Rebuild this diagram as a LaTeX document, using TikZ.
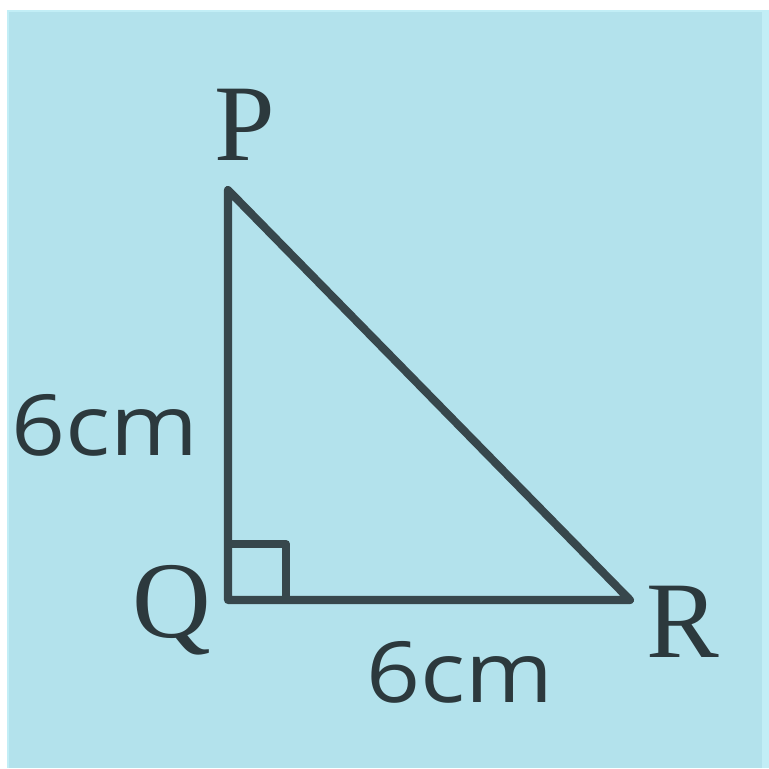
\documentclass[tikz,border=0pt]{standalone}
\usepackage{fontspec}
\setmainfont{Liberation Serif}
\newfontfamily\labelfont{Open Sans}
\usepackage{xcolor}
\usepackage{tikz}
\usetikzlibrary{calc}
\definecolor{bgblue}{HTML}{B3E2EC}
\definecolor{edgeblue}{HTML}{C2EEF6}
\definecolor{inkgray}{HTML}{37474C}

\begin{document}
\begin{tikzpicture}[x=1cm,y=1cm,
  side/.style={draw=inkgray,line width=2.3pt,line join=round},
  vertexlabel/.style={inner sep=0pt,text=inkgray!80!black,font=\fontsize{31}{31}\selectfont},
  lengthlabel/.style={inner sep=0pt,text=inkgray!80!black,xscale=1.12,font=\labelfont\fontsize{24}{24}\selectfont}]
  \useasboundingbox (0,0) rectangle (7.69,7.68);
  \fill[white] (0,0) rectangle (7.69,7.68);
  \fill[edgeblue] (0.07,0) rectangle (7.69,7.58);
  \fill[bgblue] (0.09,0) rectangle (7.62,7.56);
  \coordinate (p) at (2.28,5.78);
  \coordinate (q) at (2.28,1.68);
  \coordinate (r) at (6.30,1.68);
  \draw[side] (p) -- (q) -- (r) -- cycle;
  \draw[side] ($(q)+(0,0.56)$) -| ($(q)+(0.58,0)$);
  \node[vertexlabel] (lp) at (2.45,6.43) {P};
  \node[vertexlabel] (lq) at (1.72,1.58) {Q};
  \node[vertexlabel] (lr) at (6.83,1.46) {R};
  \node[lengthlabel] (lpq) at (1.05,3.43) {6cm};
  \node[lengthlabel] (lqr) at (4.60,0.96) {6cm};
\end{tikzpicture}
\end{document}
